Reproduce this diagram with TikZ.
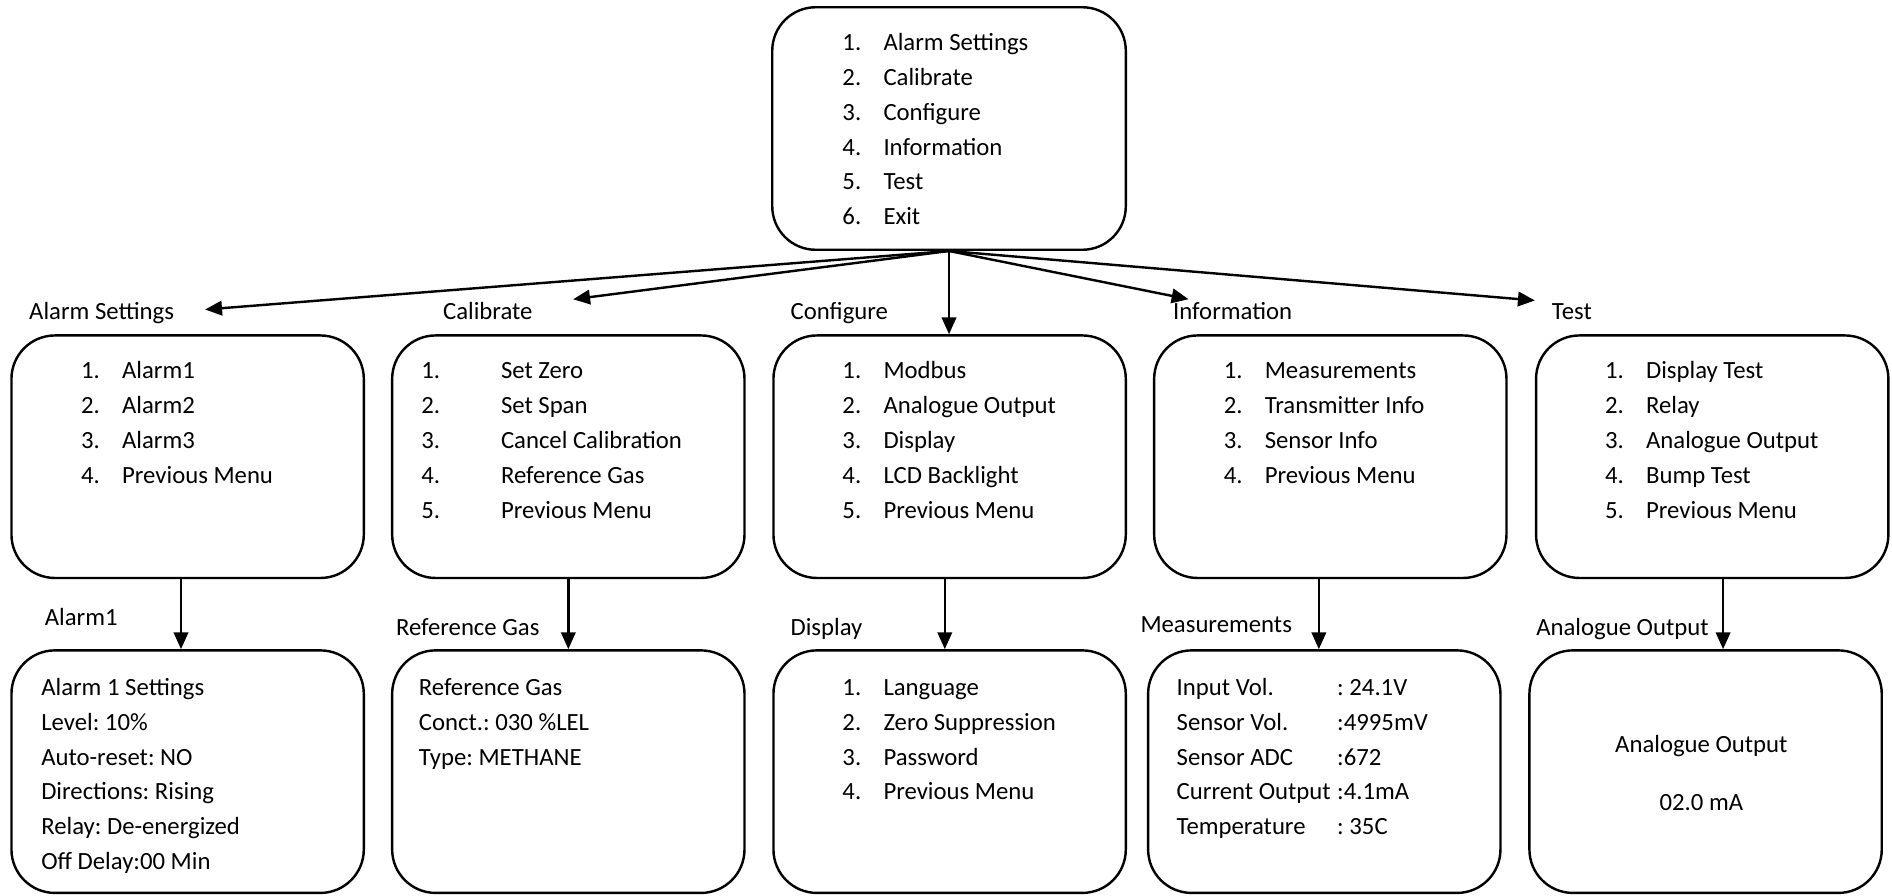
\documentclass[tikz,border=0pt]{standalone}
\usepackage{fontspec}
\setmainfont{Carlito}
\usetikzlibrary{arrows.meta,calc}
\frenchspacing
\begin{document}
\begin{tikzpicture}[x=1pt,y=-1pt,
  box/.style={draw, line width=2pt, rounded corners=36pt, inner sep=0pt, minimum width=292pt, minimum height=201pt},
  txt/.style={inner sep=0pt, anchor=base west, font=\fontsize{20.5}{29}\selectfont},
  ctxt/.style={inner sep=0pt, anchor=base, font=\fontsize{20.5}{29}\selectfont},
  arr/.style={line width=2pt, -{Triangle[length=14pt,width=12pt]}}]
\useasboundingbox (0,0) rectangle (1568,742);

% boxes
\node[box, minimum width=293pt] (top) at (786.5,106.5) {};
\node[box] (a1) at (155.5,378.5) {};
\node[box] (a2) at (471,378.5) {};
\node[box] (a3) at (787,378.5) {};
\node[box] (a4) at (1102.5,378.5) {};
\node[box] (a5) at (1419,378.5) {};
\node[box] (b1) at (155.5,639.5) {};
\node[box] (b2) at (471,639.5) {};
\node[box] (b3) at (787,639.5) {};
\node[box] (b4) at (1097.5,639.5) {};
\node[box] (b5) at (1413.5,639.5) {};

% top menu
\foreach \t [count=\i] in {Alarm Settings,Calibrate,Configure,Information,Test,Exit}{
  \node[txt] (topn\i) at (698,{42+28.85*(\i-1)}) {\i.};
  \node[txt] (topt\i) at (732,{42+28.85*(\i-1)}) {\t};
}

% level-2 labels
\node[txt] (lAS) at (24,265) {Alarm Settings};
\node[txt] (lCa) at (367,265) {Calibrate};
\node[txt] (lCo) at (655,265) {Configure};
\node[txt] (lIn) at (972,265) {Information};
\node[txt] (lTe) at (1286,265) {Test};

% arrow tips
\coordinate (tAS) at (170,256.5);
\coordinate (tCa) at (475,248);
\coordinate (tIn) at (985,248);
\coordinate (tTe) at (1272,249);
\draw[arr] (top.south) -- (tAS);
\draw[arr] (top.south) -- (tCa);
\draw[arr] (top.south) -- (top.south |- a3.north);
\draw[arr] (top.south) -- (tIn);
\draw[arr] (top.south) -- (tTe);

% level-2 lists
\foreach \t [count=\i] in {Alarm1,Alarm2,Alarm3,Previous Menu}{
  \node[txt] (a1n\i) at (67,{314+29*(\i-1)}) {\i.};
  \node[txt] (a1t\i) at (101,{314+29*(\i-1)}) {\t};
}
\foreach \t [count=\i] in {Set Zero,Set Span,Cancel Calibration,Reference Gas,Previous Menu}{
  \node[txt] (a2n\i) at (349,{314+29*(\i-1)}) {\i.};
  \node[txt] (a2t\i) at (415,{314+29*(\i-1)}) {\t};
}
\foreach \t [count=\i] in {Modbus,Analogue Output,Display,LCD Backlight,Previous Menu}{
  \node[txt] (a3n\i) at (698,{314+29*(\i-1)}) {\i.};
  \node[txt] (a3t\i) at (732,{314+29*(\i-1)}) {\t};
}
\foreach \t [count=\i] in {Measurements,Transmitter Info,Sensor Info,Previous Menu}{
  \node[txt] (a4n\i) at (1014,{314+29*(\i-1)}) {\i.};
  \node[txt] (a4t\i) at (1048,{314+29*(\i-1)}) {\t};
}
\foreach \t [count=\i] in {Display Test,Relay,Analogue Output,Bump Test,Previous Menu}{
  \node[txt] (a5n\i) at (1330,{314+29*(\i-1)}) {\i.};
  \node[txt] (a5t\i) at (1364,{314+29*(\i-1)}) {\t};
}

% level-3 labels
\node[txt] (lA1) at (37,518.5) {Alarm1};
\node[txt] (lRG) at (328,526.5) {Reference Gas};
\node[txt] (lDi) at (655,526.5) {Display};
\node[txt] (lMe) at (945,524.5) {Measurements};
\node[txt] (lAO) at (1273,526.5) {Analogue Output};

% level-3 arrows
\coordinate (c1) at (150,0);
\coordinate (c2) at (471,0);
\coordinate (c3) at (783,0);
\coordinate (c4) at (1093,0);
\coordinate (c5) at (1428,0);
\draw[arr] (c1 |- a1.south) -- (c1 |- b1.north);
\draw[arr] (c2 |- a2.south) -- (c2 |- b2.north);
\draw[arr] (c3 |- a3.south) -- (c3 |- b3.north);
\draw[arr] (c4 |- a4.south) -- (c4 |- b4.north);
\draw[arr] (c5 |- a5.south) -- (c5 |- b5.north);

% level-3 contents
\foreach \t [count=\i] in {Alarm 1 Settings,Level: 10\%,Auto-reset: NO,Directions: Rising,Relay: De-energized,Off Delay:00 Min}{
  \node[txt] (b1t\i) at (34,{576.5+28.8*(\i-1)}) {\t};
}
\foreach \t [count=\i] in {Reference Gas,Conct.: 030 \%LEL,Type: METHANE}{
  \node[txt] (b2t\i) at (347,{576.5+28.8*(\i-1)}) {\t};
}
\foreach \t [count=\i] in {Language,Zero Suppression,Password,Previous Menu}{
  \node[txt] (b3n\i) at (698,{576.5+28.8*(\i-1)}) {\i.};
  \node[txt] (b3t\i) at (732,{576.5+28.8*(\i-1)}) {\t};
}
\foreach \a/\b [count=\i] in {Input Vol./{: 24.1V},Sensor Vol./{:4995mV},Sensor ADC/{:672},Current Output/{:4.1mA},Temperature/{: 35C}}{
  \node[txt] (b4a\i) at (975,{576.5+28.8*(\i-1)}) {\a};
  \node[txt] (b4b\i) at (1108,{576.5+28.8*(\i-1)}) {\b};
}
\node[ctxt] (b5t1) at (1410,624) {Analogue Output};
\node[ctxt] (b5t2) at (1410,672) {02.0 mA};
\end{tikzpicture}
\end{document}
